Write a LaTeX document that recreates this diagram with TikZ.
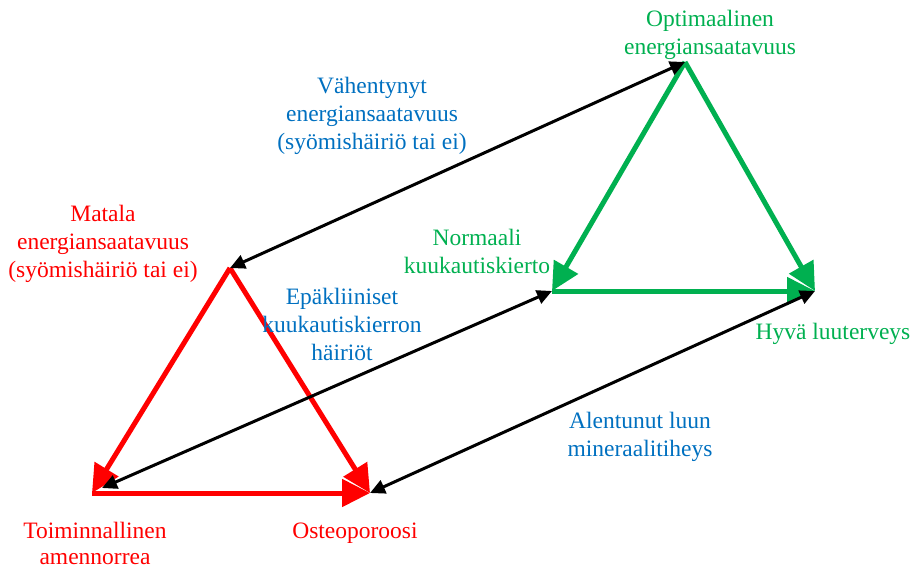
\documentclass[tikz,border=0pt]{standalone}
\usepackage{fontspec}
\setmainfont{Liberation Serif}
\usetikzlibrary{arrows.meta}
\definecolor{ggreen}{HTML}{00B050}
\definecolor{rred}{HTML}{FF0000}
\definecolor{bblue}{HTML}{0070C0}
\begin{document}
\begin{tikzpicture}[x=1pt,y=-1pt,
  lbl/.style={align=center,font=\fontsize{23.5}{28}\selectfont,inner sep=0pt},
  thick3/.style={line width=5pt,-{Triangle[length=28pt,width=27pt]}},
  blk/.style={line width=3pt,black,{Triangle[length=15pt,width=14pt]}-{Triangle[length=15pt,width=14pt]}}]
\useasboundingbox (0,0) rectangle (914,571);
% corners
\coordinate (GA) at (685,62);
\coordinate (GL) at (552,291);
\coordinate (GR) at (815,291);
\coordinate (RA) at (230,268);
\coordinate (RL) at (92,493);
\coordinate (RR) at (370,493);
\coordinate (RLb) at (102,488);
% green triangle
\draw[thick3,ggreen] (GA) -- (GL);
\draw[thick3,ggreen] (GA) -- (GR);
\draw[thick3,ggreen] (GL) -- (GR);
% red triangle
\draw[thick3,rred] (RA) -- (RL);
\draw[thick3,rred] (RA) -- (RR);
\draw[thick3,rred] (RL) -- (RR);
% black double arrows
\draw[blk] (RA) -- (GA);
\draw[blk] (RLb) -- (GL);
\draw[blk] (RR) -- (GR);
% labels
\node[lbl,text=ggreen] (opt) at (710,35) {Optimaalinen\\energiansaatavuus};
\node[lbl,text=bblue] (vah) at (372,116) {Vähentynyt\\energiansaatavuus\\(syömishäiriö tai ei)};
\node[lbl,text=rred] (mat) at (103,244) {Matala\\energiansaatavuus\\(syömishäiriö tai ei)};
\node[lbl,text=ggreen] (nor) at (477,251) {Normaali\\kuukautiskierto};
\node[lbl,text=bblue] (epa) at (342,324) {Epäkliiniset\\kuukautiskierron\\häiriöt};
\node[lbl,text=ggreen] (hyv) at (833,334) {Hyvä luuterveys};
\node[lbl,text=bblue] (ale) at (640,437) {Alentunut luun\\mineraalitiheys};
\node[lbl,text=rred,font=\fontsize{23.5}{26}\selectfont] (toi) at (95,543) {Toiminnallinen\\amennorrea};
\node[lbl,text=rred] (ost) at (355,533) {Osteoporoosi};
\end{tikzpicture}
\end{document}
